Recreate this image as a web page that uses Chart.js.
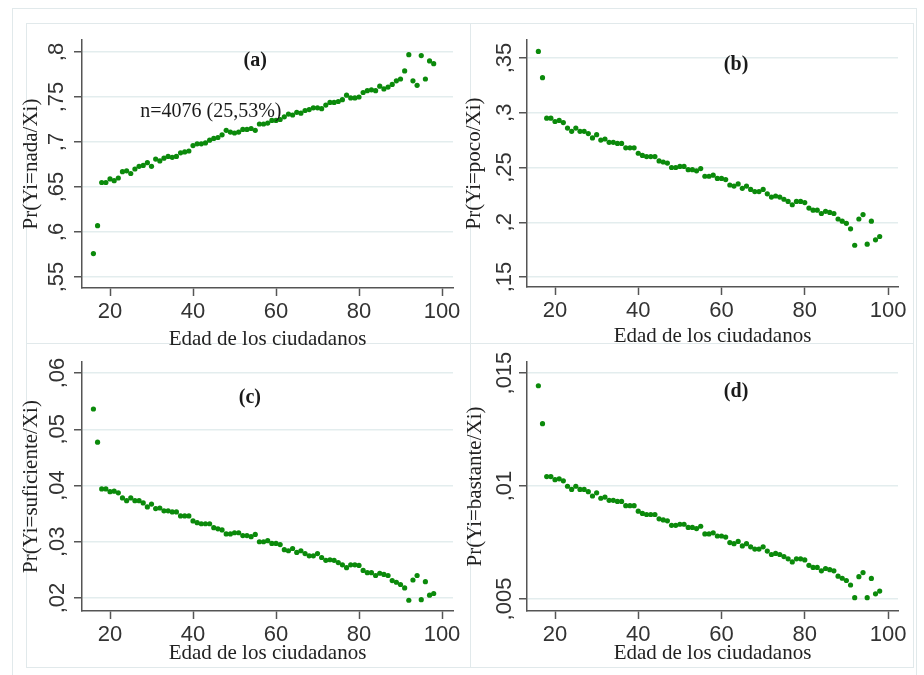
<!DOCTYPE html>
<html>
<head>
<meta charset="utf-8">
<script src="https://cdn.jsdelivr.net/npm/chart.js@4.4.1/dist/chart.umd.min.js"></script>
<style>
  body { margin: 0; background: #fff; width: 924px; height: 675px; overflow: hidden; position: relative; }
  .frame { position: absolute; border: 1px solid #e1e9eb; box-sizing: border-box; }
  canvas { position: absolute; }
</style>
</head>
<body>
<div class="frame" style="left:12px;top:8px;width:905px;height:672px"></div>
<div class="frame" style="left:26px;top:23px;width:445px;height:321px"></div>
<div class="frame" style="left:470px;top:23px;width:444px;height:321px"></div>
<div class="frame" style="left:26px;top:343px;width:445px;height:325px"></div>
<div class="frame" style="left:470px;top:343px;width:444px;height:325px"></div>

<canvas id="pa" width="470" height="350" style="left:0;top:0"></canvas>
<canvas id="pb" width="479" height="350" style="left:445px;top:0"></canvas>
<canvas id="pc" width="470" height="355" style="left:0;top:320px"></canvas>
<canvas id="pd" width="479" height="355" style="left:445px;top:320px"></canvas>

<script>
// edad de los ciudadanos
const ages = [16, 17, 18, 19, 20, 21, 22, 23, 24, 25,
  26, 27, 28, 29, 30, 31, 32, 33, 34, 35,
  36, 37, 38, 39, 40, 41, 42, 43, 44, 45,
  46, 47, 48, 49, 50, 51, 52, 53, 54, 55,
  56, 57, 58, 59, 60, 61, 62, 63, 64, 65,
  66, 67, 68, 69, 70, 71, 72, 73, 74, 75,
  76, 77, 78, 79, 80, 81, 82, 83, 84, 85,
  86, 87, 88, 89, 90, 91, 92, 93, 94, 95,
  96, 97, 98];

// Pr(Yi=nada/Xi)
const nada = [.576, .607, .655, .655, .659, .657, .660, .667, .668, .665,
  .670, .673, .674, .677, .673, .681, .679, .682, .684, .683,
  .684, .688, .689, .690, .696, .698, .698, .699, .702, .704,
  .705, .708, .713, .711, .710, .711, .714, .714, .715, .713,
  .720, .720, .721, .724, .724, .725, .728, .731, .730, .733,
  .732, .735, .736, .738, .738, .737, .741, .744, .744, .745,
  .747, .752, .749, .749, .750, .755, .757, .758, .757, .762,
  .759, .761, .764, .768, .770, .779, .797, .768, .763, .796,
  .770, .790, .787];

// Pr(Yi=poco/Xi)
const poco = [.356, .332, .295, .295, .292, .293, .291, .286, .283, .286,
  .283, .283, .281, .277, .280, .275, .276, .273, .273, .272,
  .272, .268, .268, .268, .263, .261, .260, .260, .260, .256,
  .255, .254, .250, .250, .251, .251, .248, .248, .247, .249,
  .242, .242, .243, .240, .240, .239, .234, .233, .235, .231,
  .233, .230, .228, .228, .230, .226, .223, .224, .223, .221,
  .219, .216, .219, .219, .218, .213, .211, .211, .208, .210,
  .209, .208, .203, .201, .199, .194, .179, .203, .207, .180,
  .201, .184, .187];

// Pr(Yi=suficiente/Xi)
const suficiente = [.0536, .0477, .0394, .0394, .0389, .0390, .0387, .0378, .0373, .0378,
  .0373, .0373, .0369, .0362, .0367, .0359, .0360, .0355, .0355, .0353,
  .0353, .0346, .0346, .0346, .0337, .0334, .0332, .0332, .0332, .0325,
  .0323, .0321, .0314, .0314, .0316, .0316, .0311, .0311, .0309, .0313,
  .0300, .0300, .0302, .0297, .0297, .0295, .0286, .0284, .0288, .0281,
  .0284, .0279, .0275, .0275, .0279, .0272, .0267, .0268, .0267, .0263,
  .0259, .0254, .0259, .0259, .0258, .0249, .0245, .0245, .0240, .0244,
  .0242, .0240, .0231, .0228, .0224, .0218, .0196, .0232, .0240, .0197,
  .0229, .0205, .0208];

// Pr(Yi=bastante/Xi)
const bastante = [.01444, .01276, .01042, .01042, .01028, .01032, .01023, .00999, .00985, .00999,
  .00985, .00985, .00975, .00956, .00970, .00946, .00951, .00937, .00937, .00932,
  .00932, .00913, .00913, .00913, .00889, .00879, .00874, .00874, .00874, .00855,
  .00850, .00846, .00826, .00826, .00831, .00831, .00817, .00817, .00812, .00822,
  .00788, .00788, .00793, .00779, .00779, .00774, .00750, .00745, .00755, .00735,
  .00745, .00731, .00721, .00721, .00731, .00712, .00697, .00702, .00697, .00688,
  .00678, .00664, .00678, .00678, .00673, .00649, .00640, .00640, .00625, .00635,
  .00630, .00625, .00601, .00592, .00582, .00562, .00506, .00599, .00617, .00506,
  .00591, .00523, .00535];

// tick labels
const ageTicks = [20, 40, 60, 80, 100];
const nadaTicks = [.55, .6, .65, .7, .75, .8];
const pocoTicks = [.15, .2, .25, .3, .35];
const suficienteTicks = [.02, .03, .04, .05, .06];
const bastanteTicks = [.005, .01, .015];

const green = '#0b8a0b';
const axisGray = '#555';
const gridColor = '#e3edee';
const sans = "'Liberation Sans', Arial, sans-serif";
const serif = "'Liberation Serif', 'Times New Roman', serif";

// stata style: ,8 instead of 0.8
function commaLabel(v) {
  return String(+v.toFixed(4)).replace('0.', ',');
}

// text inside the plot: (a), n=...
function notesPlugin(notes) {
  return {
    id: 'panelText',
    afterDatasetsDraw(chart) {
      const ctx = chart.ctx;
      const x = chart.scales.x;
      const y = chart.scales.y;
      notes.forEach(function (n) {
        ctx.save();
        ctx.font = n.font;
        ctx.fillStyle = '#1a1a1a';
        ctx.textAlign = 'center';
        ctx.textBaseline = 'middle';
        ctx.fillText(n.text, x.getPixelForValue(n.x), y.getPixelForValue(n.y));
        ctx.restore();
      });
    }
  };
}

function makePanel(id, values, yTicks, yTitle, p) {
  return new Chart(document.getElementById(id), {
    type: 'scatter',
    data: {
      datasets: [{
        data: ages.map((a, i) => ({ x: a, y: values[i] })),
        backgroundColor: green,
        borderWidth: 0,
        pointRadius: 2.6,
      }],
    },
    options: {
      responsive: false,
      animation: false,
      events: [],
      layout: { padding: { left: 0, top: p.top, right: p.right, bottom: 0 } },
      plugins: { legend: { display: false }, tooltip: { enabled: false } },
      scales: {
        x: {
          type: 'linear',
          min: p.xMin,
          max: p.xMax,
          bounds: 'data',
          afterBuildTicks: function (s) { s.ticks = ageTicks.map(v => ({ value: v })); },
          afterFit: function (s) { s.height = p.xh; },
          grid: { drawOnChartArea: false, tickLength: 8, tickColor: axisGray, tickWidth: 1.5 },
          border: { color: axisGray, width: 1.5 },
          ticks: { font: { family: sans, size: 22 }, color: '#333', padding: 3, maxRotation: 0, autoSkip: false },
          title: {
            display: true,
            text: 'Edad de los ciudadanos',
            color: '#222',
            font: { family: serif, size: 21, lineHeight: 1 },
            padding: { top: 0, bottom: p.xtb },
          },
        },
        y: {
          min: p.yMin,
          max: p.yMax,
          bounds: 'data',
          afterBuildTicks: function (s) { s.ticks = yTicks.map(v => ({ value: v })); },
          afterFit: function (s) { s.width = 82; },
          grid: { color: gridColor, lineWidth: 1.5, tickLength: 8, tickColor: axisGray, tickWidth: 1.5 },
          border: { color: axisGray, width: 1.5 },
          ticks: {
            font: { family: sans, size: 22 },
            color: '#333',
            minRotation: 90,
            maxRotation: 90,
            crossAlign: 'center',
            padding: p.tp,
            autoSkip: false,
            callback: v => commaLabel(v),
          },
          title: {
            display: true,
            text: yTitle,
            color: '#222',
            font: { family: serif, size: 21, lineHeight: 1 },
            padding: { top: p.ytt, bottom: 0 },
          },
        },
      },
    },
    plugins: [notesPlugin(p.notes)],
  });
}

makePanel('pa', nada, nadaTicks, 'Pr(Yi=nada/Xi)', {
  top: 40, right: 17, xh: 62, xtb: 0.5, ytt: 20.5, tp: 1.7,
  xMin: 13.25, xMax: 102.65, yMin: .5378, yMax: .8133,
  notes: [
    { text: '(a)', x: 55, y: .790, font: 'bold 20px ' + serif },
    { text: 'n=4076 (25,53%)', x: 44.3, y: .7333, font: '20px ' + serif },
  ],
});

makePanel('pb', poco, pocoTicks, 'Pr(Yi=poco/Xi)', {
  top: 40, right: 26, xh: 63, xtb: 3.5, ytt: 18.5, tp: -1.3,
  xMin: 13.27, xMax: 102.4, yMin: .1409, yMax: .3664,
  notes: [{ text: '(b)', x: 63.5, y: .3436, font: 'bold 20px ' + serif }],
});

makePanel('pc', suficiente, suficienteTicks, 'Pr(Yi=suficiente/Xi)', {
  top: 42, right: 17, xh: 64, xtb: 11.5, ytt: 20.5, tp: 0.7,
  xMin: 13.25, xMax: 102.65, yMin: .01769, yMax: .06196,
  notes: [{ text: '(c)', x: 53.7, y: .0556, font: 'bold 20px ' + serif }],
});

makePanel('pd', bastante, bastanteTicks, 'Pr(Yi=bastante/Xi)', {
  top: 42, right: 26, xh: 64, xtb: 11.5, ytt: 19.5, tp: -7.4,
  xMin: 13.27, xMax: 102.4, yMin: .00447, yMax: .01549,
  notes: [{ text: '(d)', x: 63.5, y: .01416, font: 'bold 20px ' + serif }],
});
</script>
</body>
</html>
